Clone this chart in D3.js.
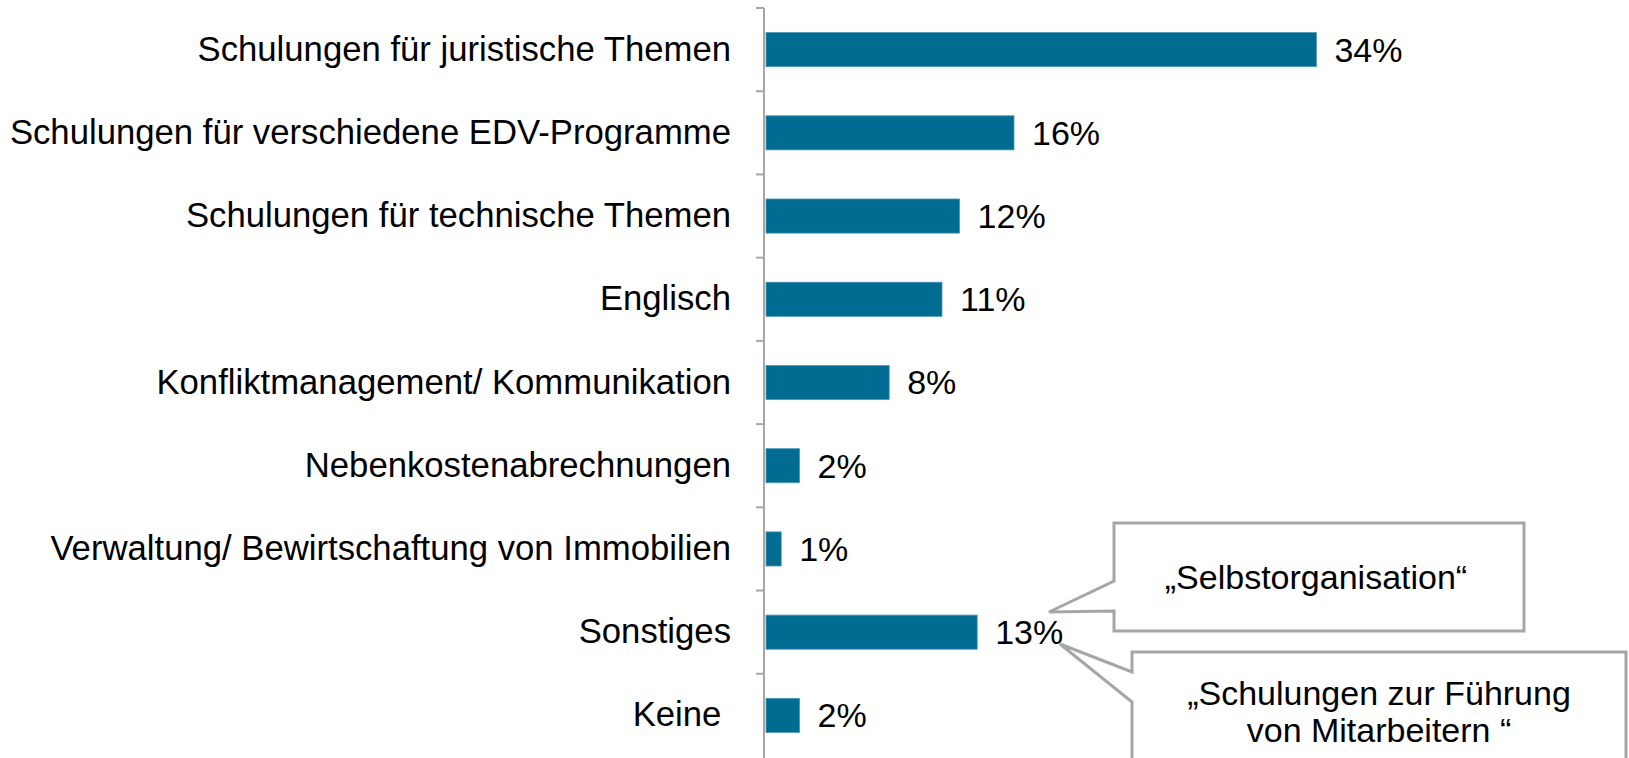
<!DOCTYPE html>
<html>
<head>
<meta charset="utf-8">
<script src="https://cdn.jsdelivr.net/npm/d3@7"></script>
<style>
  body { margin: 0; background: #fff; }
  text { font-family: "Liberation Sans", Arial, sans-serif; fill: #000; white-space: pre; }
</style>
</head>
<body>
<script>
// categories, top to bottom
var categories = [
  "Schulungen für juristische Themen",
  "Schulungen für verschiedene EDV-Programme",
  "Schulungen für technische Themen",
  "Englisch",
  "Konfliktmanagement/ Kommunikation",
  "Nebenkostenabrechnungen",
  "Verwaltung/ Bewirtschaftung von Immobilien",
  "Sonstiges",
  "Keine "
];
// bar lengths (percent)
var values = [34.4, 15.5, 12.1, 11.0, 7.7, 2.1, 0.95, 13.2, 2.1];
// printed labels
var valueLabels = ["34%", "16%", "12%", "11%", "8%", "2%", "1%", "13%", "2%"];
// callout texts
var callout1 = ["„Selbstorganisation“"];
var callout2 = ["„Schulungen zur Führung", "von Mitarbeitern “"];

var svg_width = 1629;
var svg_height = 758;
var axisX = 764;

var svg = d3.select("body").append("svg")
  .attr("width", svg_width)
  .attr("height", svg_height);

var xScale = d3.scaleLinear()
  .domain([0, 40])
  .range([axisX + 2, axisX + 2 + 640]);

var yScale = d3.scaleBand()
  .domain(categories)
  .range([8, 757])
  .paddingInner(0.59)
  .paddingOuter(0.295);

var step = yScale.step();

// bars
svg.selectAll("rect.bar")
  .data(values)
  .enter()
  .append("rect")
  .attr("class", "bar")
  .attr("x", xScale(0))
  .attr("y", (d, i) => yScale(categories[i]))
  .attr("width", d => xScale(d) - xScale(0))
  .attr("height", yScale.bandwidth())
  .attr("fill", "#006c91")
  .attr("stroke", "#4d98b5")
  .attr("stroke-width", 0.8);

// value labels
svg.selectAll("text.val")
  .data(values)
  .enter()
  .append("text")
  .attr("class", "val")
  .attr("x", d => xScale(d) + 18)
  .attr("y", (d, i) => yScale(categories[i]) + yScale.bandwidth() / 2)
  .attr("dy", "0.35em")
  .style("font-size", "34px")
  .text((d, i) => valueLabels[i]);

// category labels via the axis
var yAxis = d3.axisLeft(yScale).tickSize(0).tickPadding(33);
var gy = svg.append("g")
  .attr("transform", "translate(" + axisX + ",0)")
  .call(yAxis);
gy.select(".domain").remove();
gy.selectAll("text")
  .style("font-size", "34.7px")
  .style("font-family", "'Liberation Sans', Arial, sans-serif")
  .attr("fill", "#000");

// axis line and boundary ticks
svg.append("line")
  .attr("x1", axisX).attr("x2", axisX)
  .attr("y1", yScale.range()[0]).attr("y2", svg_height)
  .attr("stroke", "#a6a6a6")
  .attr("stroke-width", 2);

svg.selectAll("line.tick")
  .data(categories)
  .enter()
  .append("line")
  .attr("class", "tick")
  .attr("x1", axisX - 8).attr("x2", axisX)
  .attr("y1", (d, i) => yScale.range()[0] + i * step)
  .attr("y2", (d, i) => yScale.range()[0] + i * step)
  .attr("stroke", "#a6a6a6")
  .attr("stroke-width", 2);

// callout 1 (points at Sonstiges label)
var c1 = { x: 1114, y: 523, w: 410, h: 108, tipX: 1049, tipY: 612, b1: 581, b2: 611 };
svg.append("path")
  .attr("d", "M" + c1.x + "," + c1.y +
    " H" + (c1.x + c1.w) +
    " V" + (c1.y + c1.h) +
    " H" + c1.x +
    " V" + c1.b2 +
    " L" + c1.tipX + "," + c1.tipY +
    " L" + c1.x + "," + c1.b1 + " Z")
  .attr("fill", "#fff")
  .attr("stroke", "#a6a6a6")
  .attr("stroke-width", 3);

svg.append("text")
  .attr("x", c1.x + c1.w / 2 - 3)
  .attr("y", c1.y + c1.h / 2)
  .attr("dy", "0.35em")
  .attr("text-anchor", "middle")
  .style("font-size", "34px")
  .text(callout1[0]);

// callout 2
var c2 = { x: 1132, y: 652, w: 494, h: 140, tipX: 1060, tipY: 644, b1: 672, b2: 702 };
svg.append("path")
  .attr("d", "M" + c2.x + "," + c2.y +
    " H" + (c2.x + c2.w) +
    " V" + (c2.y + c2.h) +
    " H" + c2.x +
    " V" + c2.b2 +
    " L" + c2.tipX + "," + c2.tipY +
    " L" + c2.x + "," + c2.b1 + " Z")
  .attr("fill", "#fff")
  .attr("stroke", "#a6a6a6")
  .attr("stroke-width", 3);

svg.selectAll("text.c2")
  .data(callout2)
  .enter()
  .append("text")
  .attr("class", "c2")
  .attr("x", c2.x + c2.w / 2)
  .attr("y", (d, i) => 693 + i * 37)
  .attr("dy", "0.35em")
  .attr("text-anchor", "middle")
  .style("font-size", "34px")
  .text(d => d);
</script>
</body>
</html>
